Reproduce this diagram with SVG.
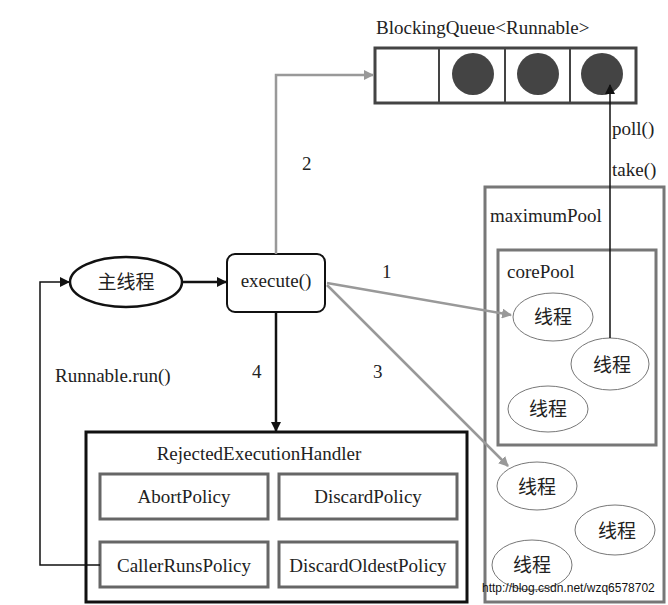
<svg xmlns="http://www.w3.org/2000/svg" width="668" height="605" viewBox="0 0 668 605">
<style>
text{font-family:"Liberation Serif","Times New Roman",serif;font-size:19px;fill:#222}
.cjk{font-family:"Liberation Serif","Noto Sans CJK SC",serif;font-size:19px}
.thr{fill:#fff;stroke:#777;stroke-width:1}
.pol{fill:#fff;stroke:#666;stroke-width:3}
.g{stroke:#999;stroke-width:2.5;fill:none}
.k{stroke:#111;fill:none}
</style>
<defs>
<marker id="ag" markerWidth="10" markerHeight="10" refX="9" refY="5" orient="auto" markerUnits="userSpaceOnUse"><path d="M0,0 L10,5 L0,10 z" fill="#999"/></marker>
<marker id="ak" markerWidth="10" markerHeight="10" refX="9" refY="5" orient="auto" markerUnits="userSpaceOnUse"><path d="M0,0 L10,5 L0,10 z" fill="#111"/></marker>
</defs>
<rect width="668" height="605" fill="#fff"/>

<g id="queue">
<text x="376" y="34">BlockingQueue&lt;Runnable&gt;</text>
<rect x="375" y="48" width="261" height="55" fill="#fff" stroke="#444" stroke-width="3"/>
<line x1="439" y1="48" x2="439" y2="103" stroke="#444" stroke-width="2"/>
<line x1="505" y1="48" x2="505" y2="103" stroke="#444" stroke-width="2"/>
<line x1="570" y1="48" x2="570" y2="103" stroke="#444" stroke-width="2"/>
<circle cx="473" cy="74" r="21" fill="#444"/>
<circle cx="538" cy="74" r="21" fill="#444"/>
<circle cx="602" cy="74" r="21" fill="#444"/>
</g>

<g id="maximumPool">
<rect x="485" y="187" width="179" height="415" fill="#fff" stroke="#777" stroke-width="3"/>
<text x="490" y="222">maximumPool</text>
</g>
<g id="corePool">
<rect x="498" y="250" width="158" height="195" fill="#fff" stroke="#777" stroke-width="3"/>
<text x="507" y="278">corePool</text>
</g>
<g id="t1"><ellipse class="thr" cx="553" cy="317" rx="40" ry="24"/><text class="cjk" x="553" y="324" text-anchor="middle">线程</text></g>
<g id="t2"><ellipse class="thr" cx="610" cy="364" rx="39" ry="26"/><text class="cjk" x="612" y="372" text-anchor="middle">线程</text></g>
<g id="t3"><ellipse class="thr" cx="548" cy="409" rx="40" ry="23"/><text class="cjk" x="548" y="416" text-anchor="middle">线程</text></g>
<g id="t4"><ellipse class="thr" cx="537" cy="486" rx="40" ry="24"/><text class="cjk" x="537" y="494" text-anchor="middle">线程</text></g>
<g id="t5"><ellipse class="thr" cx="615" cy="530" rx="40" ry="25"/><text class="cjk" x="617" y="538" text-anchor="middle">线程</text></g>
<g id="t6"><ellipse class="thr" cx="532" cy="565" rx="40" ry="25"/><text class="cjk" x="532" y="572" text-anchor="middle">线程</text></g>

<g id="main">
<ellipse cx="126" cy="282" rx="56" ry="25" fill="#fff" stroke="#111" stroke-width="2.5"/>
<text class="cjk" x="126" y="289" text-anchor="middle">主线程</text>
</g>
<g id="execute">
<rect x="227" y="254" width="98" height="58" rx="8" fill="#fff" stroke="#111" stroke-width="2"/>
<text x="276" y="287" text-anchor="middle">execute()</text>
</g>

<g id="handler">
<rect x="86" y="432" width="381" height="170" fill="#fff" stroke="#111" stroke-width="3"/>
<text x="259" y="460" text-anchor="middle">RejectedExecutionHandler</text>
<rect class="pol" x="100" y="474" width="168" height="45"/>
<text x="184" y="503" text-anchor="middle">AbortPolicy</text>
<rect class="pol" x="279" y="474" width="178" height="45"/>
<text x="368" y="503" text-anchor="middle">DiscardPolicy</text>
<rect class="pol" x="100" y="542" width="168" height="45"/>
<text x="184" y="572" text-anchor="middle">CallerRunsPolicy</text>
<rect class="pol" x="279" y="542" width="178" height="45"/>
<text x="368" y="572" text-anchor="middle">DiscardOldestPolicy</text>
</g>

<g id="connectors">
<path class="g" d="M276,254 V75 H373" marker-end="url(#ag)"/>
<line class="g" x1="327" y1="283" x2="511" y2="315" marker-end="url(#ag)"/>
<line class="g" x1="327" y1="285" x2="508" y2="466" marker-end="url(#ag)"/>
<line class="k" stroke-width="2.5" x1="183" y1="282" x2="226" y2="282" marker-end="url(#ak)"/>
<line class="k" stroke-width="2.5" x1="276" y1="312" x2="276" y2="431" marker-end="url(#ak)"/>
<path class="k" stroke-width="1.5" d="M100,565 H40 V282 H69" marker-end="url(#ak)"/>
<line class="k" stroke-width="1.5" x1="610" y1="338" x2="610" y2="85" marker-end="url(#ak)"/>
<text x="302" y="170">2</text>
<text x="382" y="278">1</text>
<text x="373" y="378">3</text>
<text x="252" y="378">4</text>
<text x="55" y="382">Runnable.run()</text>
<text x="612" y="135">poll()</text>
<text x="612" y="176">take()</text>
</g>
<text x="482" y="592" style="font-family:'Liberation Sans',Arial,sans-serif;font-size:12px;fill:#111">http://blog.csdn.net/wzq6578702</text>
</svg>
